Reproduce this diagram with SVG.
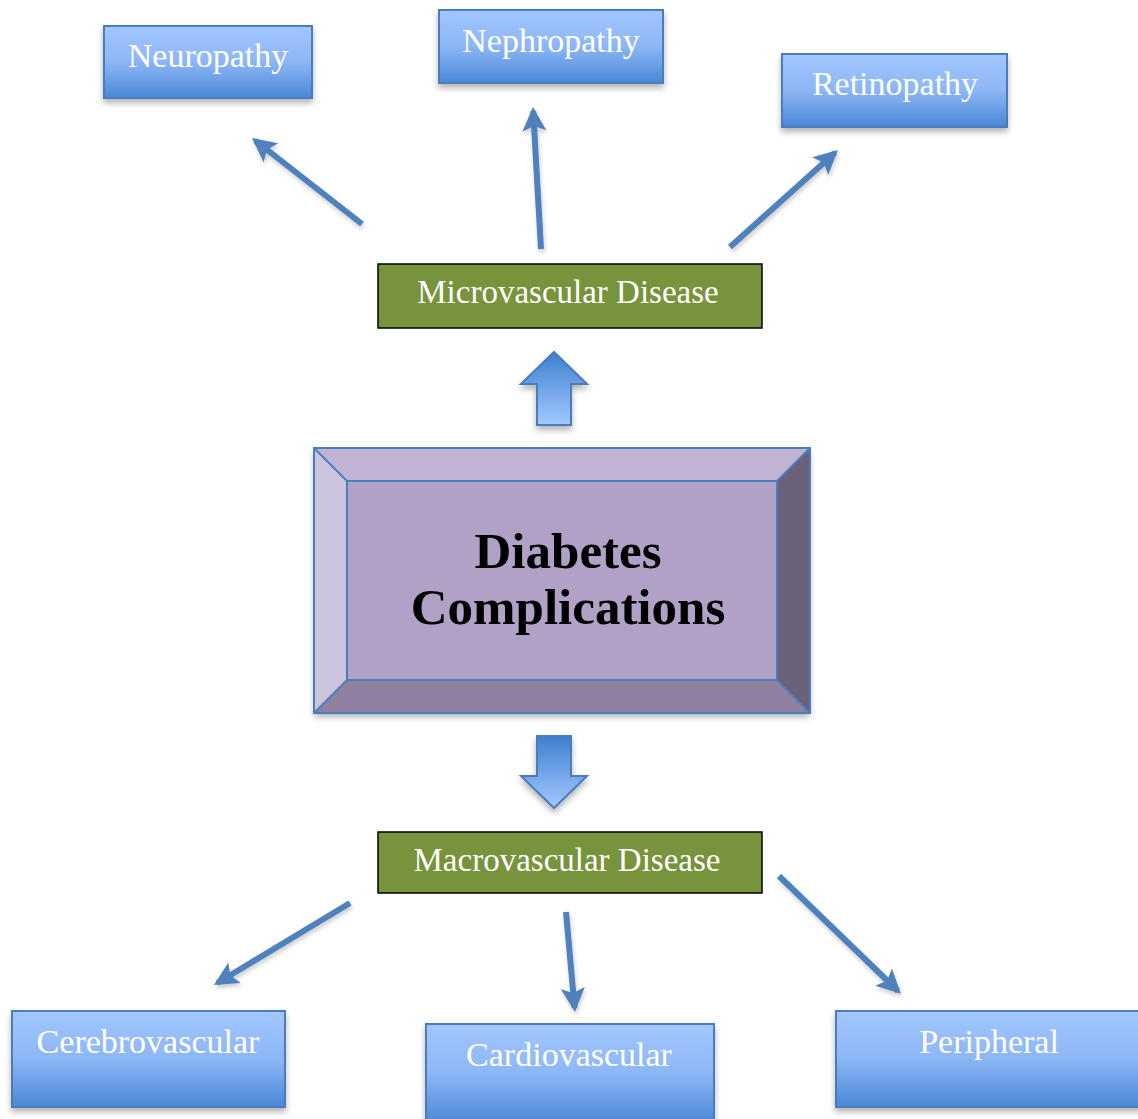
<svg xmlns="http://www.w3.org/2000/svg" width="1138" height="1119" viewBox="0 0 1138 1119">
<style>
.bt{font-family:"Liberation Serif","DejaVu Serif",serif;fill:#ffffff;text-anchor:middle;}
.blue{fill:url(#bg);stroke:#4a7ebb;stroke-width:2;filter:url(#sh);}
.green{fill:#77933c;stroke:#000000;stroke-width:1.5;}
.con{stroke:#4f81bd;stroke-width:6;fill:none;marker-end:url(#ah);}
.big{stroke:#4a7ebb;stroke-width:2;stroke-linejoin:miter;filter:url(#sh);}
</style>
<defs>
<linearGradient id="bg" x1="0" y1="0" x2="0" y2="1">
<stop offset="0" stop-color="#a3c7ff"/>
<stop offset="0.5" stop-color="#8cb6f5"/>
<stop offset="1" stop-color="#4a87d6"/>
</linearGradient>
<linearGradient id="bg2" x1="0" y1="0" x2="0" y2="1">
<stop offset="0" stop-color="#3f7fd0"/>
<stop offset="1" stop-color="#a3c8ff"/>
</linearGradient>
<filter id="sh" x="-10%" y="-10%" width="120%" height="130%">
<feDropShadow dx="0" dy="4" stdDeviation="3" flood-color="#000" flood-opacity="0.3"/>
</filter>
<filter id="sh2" filterUnits="userSpaceOnUse" x="0" y="0" width="1138" height="1119">
<feDropShadow dx="1" dy="3" stdDeviation="2" flood-color="#000" flood-opacity="0.2"/>
</filter>
<marker id="ah" markerUnits="userSpaceOnUse" markerWidth="30" markerHeight="30" refX="20" refY="12" orient="auto" overflow="visible">
<path d="M0,0 L24,12 L0,24 L5,12 Z" fill="#4f81bd"/>
</marker>
</defs>

<g id="connectors" filter="url(#sh2)">
<line class="con" x1="362" y1="224" x2="255.2" y2="140.5"/>
<line class="con" x1="541" y1="249" x2="533.2" y2="111"/>
<line class="con" x1="730" y1="247" x2="835" y2="152.7"/>
<line class="con" x1="350" y1="903" x2="217.4" y2="983"/>
<line class="con" x1="566" y1="912" x2="574.6" y2="1008"/>
<line class="con" x1="779" y1="876" x2="898" y2="991"/>
</g>

<g id="neuropathy">
<rect class="blue" x="104" y="26" width="208" height="72"/>
<text class="bt" x="208" y="67" font-size="34">Neuropathy</text>
</g>
<g id="nephropathy">
<rect class="blue" x="439" y="10" width="224" height="73"/>
<text class="bt" x="551" y="52" font-size="34">Nephropathy</text>
</g>
<g id="retinopathy">
<rect class="blue" x="782" y="54" width="225" height="73"/>
<text class="bt" x="895" y="95" font-size="34">Retinopathy</text>
</g>

<g id="microvascular">
<rect class="green" x="378" y="264" width="384" height="64"/>
<text class="bt" x="568" y="303" font-size="33">Microvascular Disease</text>
</g>

<g id="up-arrow">
<path class="big" fill="url(#bg2)" d="M537,425 L537,384 L521,384 L554,352 L587,384 L571,384 L571,425 Z"/>
</g>

<g id="diabetes">
<g filter="url(#sh)">
<polygon points="314,448 810,448 777,481 347,481" fill="#c2b3d5"/>
<polygon points="314,448 347,481 347,680 314,713" fill="#cec3de"/>
<polygon points="810,448 810,713 777,680 777,481" fill="#6b6079"/>
<polygon points="314,713 347,680 777,680 810,713" fill="#9080a0"/>
<rect x="347" y="481" width="430" height="199" fill="#b1a1c6"/>
</g>
<g stroke="#4a7ebb" stroke-width="2" fill="none">
<rect x="314" y="448" width="496" height="265"/>
<rect x="347" y="481" width="430" height="199"/>
<line x1="314" y1="448" x2="347" y2="481"/>
<line x1="810" y1="448" x2="777" y2="481"/>
<line x1="314" y1="713" x2="347" y2="680"/>
<line x1="810" y1="713" x2="777" y2="680"/>
</g>
<text x="568" y="568" font-family="Liberation Serif,DejaVu Serif,serif" font-weight="bold" font-size="51" text-anchor="middle" fill="#000">Diabetes</text>
<text x="568" y="624" font-family="Liberation Serif,DejaVu Serif,serif" font-weight="bold" font-size="51" text-anchor="middle" fill="#000">Complications</text>
</g>

<g id="down-arrow">
<path class="big" fill="url(#bg2)" d="M537,736 L571,736 L571,776 L587,776 L554,808 L521,776 L537,776 Z"/>
</g>

<g id="macrovascular">
<rect class="green" x="378" y="832" width="384" height="61"/>
<text class="bt" x="567" y="871" font-size="33">Macrovascular Disease</text>
</g>

<g id="cerebrovascular">
<rect class="blue" x="12" y="1011" width="273" height="96"/>
<text class="bt" x="148" y="1053" font-size="34">Cerebrovascular</text>
</g>
<g id="cardiovascular">
<rect class="blue" x="426" y="1024" width="288" height="100"/>
<text class="bt" x="569" y="1066" font-size="34">Cardiovascular</text>
</g>
<g id="peripheral">
<rect class="blue" x="836" y="1011" width="305" height="96"/>
<text class="bt" x="989" y="1053" font-size="34">Peripheral</text>
</g>
</svg>
